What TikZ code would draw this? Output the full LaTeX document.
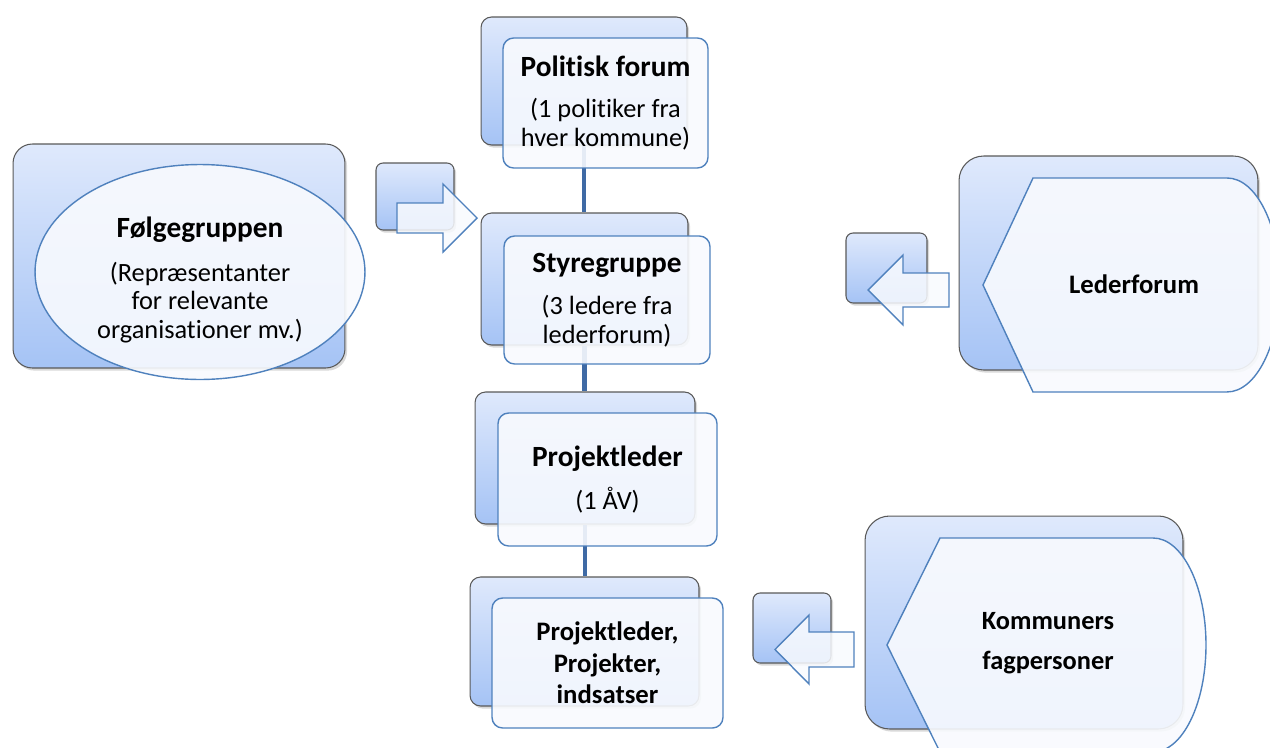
\documentclass[tikz,border=0pt]{standalone}
\usepackage{fontspec}
\setmainfont{Carlito}[Ligatures=NoCommon]
\usetikzlibrary{shapes.geometric,shadows}
\definecolor{backtop}{HTML}{DFE9FC}
\definecolor{backbot}{HTML}{A5C3F5}
\definecolor{backline}{HTML}{595959}
\definecolor{frontline}{HTML}{4F81BD}
\definecolor{frontfill}{HTML}{F8FAFE}
\definecolor{linkblue}{HTML}{3F6AA5}
\newcommand{\boxtitle}[1]{{\fontsize{16.7}{16.4}\selectfont\bfseries #1}}
\begin{document}
\begin{tikzpicture}[
            x=0.02cm, y=-0.02cm,
            every node/.style={font=\fontsize{15}{16.4}\selectfont, align=center, inner sep=0pt},
            backbox/.style={rectangle, rounded corners=6pt, draw=backline, line width=0.6pt,
                top color=backtop, bottom color=backbot,
                drop shadow={shadow xshift=1.2pt, shadow yshift=-1.5pt, opacity=0.3}},
            frontstyle/.style={draw=frontline, line width=0.8pt, fill=frontfill, fill opacity=0.9, text opacity=1},
            frontbox/.style={frontstyle, rectangle, rounded corners=6pt},
            blockarrow/.style={frontstyle, fill opacity=0.85, line join=miter},
            link/.style={draw=linkblue, line width=2.6pt}
            ]
            \useasboundingbox (0,0) rectangle (1270,747);

            % chain in the middle
            \node[backbox, minimum width=4.12cm, minimum height=2.56cm] (polb) at (584,81) {};
            \node[backbox, minimum width=4.14cm, minimum height=2.64cm] (styb) at (584.5,279) {};
            \node[backbox, minimum width=4.4cm, minimum height=2.64cm] (prjb) at (585,458) {};
            \node[backbox, minimum width=4.58cm, minimum height=2.58cm] (indb) at (584.5,641.5) {};

            \foreach \a/\b in {polb/styb, styb/prjb, prjb/indb}{
                \draw[link] (\a.south) -- (\a.south |- \b.north);
            }

            \node[frontbox, minimum width=4.1cm, minimum height=2.6cm] (polf) at (605.5,103)
                {\boxtitle{Politisk forum}\\[7.4pt](1 politiker fra\\hver kommune)};
            \node[frontbox, minimum width=4.12cm, minimum height=2.56cm] (styf) at (607,300)
                {\boxtitle{Styregruppe}\\[7.4pt](3 ledere fra\\lederforum)};
            \node[frontbox, minimum width=4.38cm, minimum height=2.66cm] (prjf) at (607.5,479.5)
                {\boxtitle{Projektleder}\\[8.5pt](1 ÅV)};
            \node[frontbox, minimum width=4.62cm, minimum height=2.6cm, font=\fontsize{15.2}{17.9}\selectfont\bfseries] (indf) at (607.5,663)
                {Projektleder,\\Projekter,\\indsatser};

            % Følgegruppen
            \node[backbox, rounded corners=11pt, minimum width=6.64cm, minimum height=4.48cm] (folb) at (179,256) {};
            \node[frontstyle, ellipse, minimum width=6.6cm, minimum height=4.3cm] (folf) at (200,272) {};
            \node (folt) at (200,280)
                {\boxtitle{Følgegruppen}\\[8.5pt](Repræsentanter\\for relevante\\organisationer mv.)};
            \node[backbox, rounded corners=4pt, minimum width=1.56cm, minimum height=1.34cm] (folarr) at (415,196.5) {};
            \draw[blockarrow] (397,203) -- (443,203) -- (443,184) -- (477,218) -- (443,252) -- (443,233) -- (397,233) -- cycle;

            % Lederforum
            \node[backbox, rounded corners=14pt, minimum width=5.98cm, minimum height=4.28cm] (ledb) at (1108.5,263) {};
            \draw[frontstyle] (983,285) -- (1033,178) -- (1227,178)
                arc[start angle=90, end angle=-90, x radius=1.06cm, y radius=2.14cm] -- (1033,392) -- cycle;
            \node[font=\fontsize{15.2}{16.4}\selectfont\bfseries] (ledf) at (1134,284) {Lederforum};
            \node[backbox, rounded corners=4pt, minimum width=1.62cm, minimum height=1.4cm] (ledarr) at (886.5,268) {};
            \draw[blockarrow] (868,290) -- (903,255) -- (903,273) -- (949,273) -- (949,307) -- (903,307) -- (903,325) -- cycle;

            % Kommuners fagpersoner
            \node[backbox, rounded corners=14pt, minimum width=6.36cm, minimum height=4.26cm] (komb) at (1024,622.5) {};
            \draw[frontstyle] (887,645) -- (940,538) -- (1153,538)
                arc[start angle=90, end angle=-90, x radius=1.06cm, y radius=2.14cm] -- (940,752) -- cycle;
            \node[font=\fontsize{15}{16.4}\selectfont\bfseries] (komf) at (1048,643) {Kommuners\\[6pt]fagpersoner};
            \node[backbox, rounded corners=4pt, minimum width=1.56cm, minimum height=1.4cm] (komarr) at (792,628) {};
            \draw[blockarrow] (775,649.5) -- (809,615) -- (809,632) -- (854,632) -- (854,667) -- (809,667) -- (809,684) -- cycle;
        \end{tikzpicture}
\end{document}
